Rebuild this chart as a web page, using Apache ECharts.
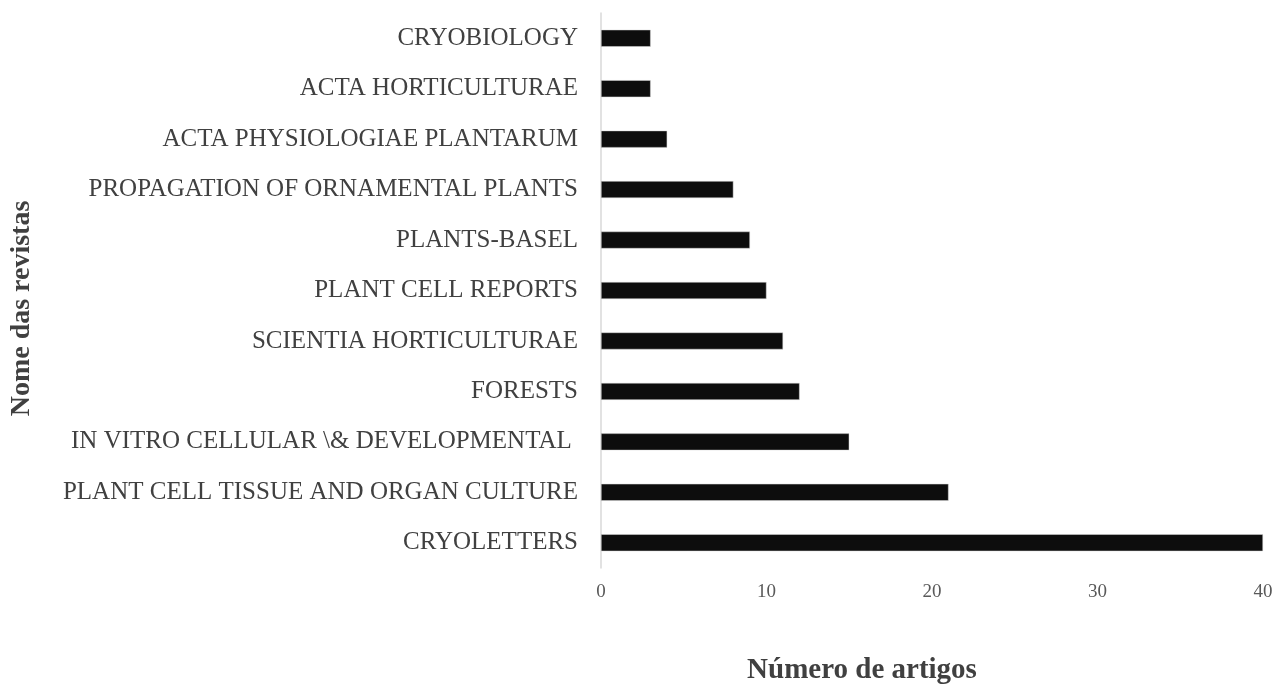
<!DOCTYPE html>
<html>
<head>
<meta charset="utf-8">
<script src="https://cdn.jsdelivr.net/npm/echarts@6/dist/echarts.min.js"></script>
<style>
  html, body { margin: 0; padding: 0; background: #fff; }
  #chart { width: 1274px; height: 686px; }
</style>
</head>
<body>
<div id="chart"></div>
<script>
// revistas, de cima para baixo
var journals = [
  "CRYOBIOLOGY",
  "ACTA HORTICULTURAE",
  "ACTA PHYSIOLOGIAE PLANTARUM",
  "PROPAGATION OF ORNAMENTAL PLANTS",
  "PLANTS-BASEL",
  "PLANT CELL REPORTS",
  "SCIENTIA HORTICULTURAE",
  "FORESTS",
  "IN VITRO CELLULAR \\& DEVELOPMENTAL ",
  "PLANT CELL TISSUE AND ORGAN CULTURE",
  "CRYOLETTERS"
];
var articles = [3, 3, 4, 8, 9, 10, 11, 12, 15, 21, 40];
var xTicks = [0, 10, 20, 30, 40];

var serif = "'Liberation Serif', 'DejaVu Serif', serif";
var chart = echarts.init(document.getElementById("chart"));
var option = {
  animation: false,
  grid: { left: 601, right: 11, top: 13, bottom: 118, containLabel: false, outerBoundsMode: "none" },
  xAxis: {
    type: "value",
    min: xTicks[0],
    max: xTicks[xTicks.length - 1],
    interval: 10,
    axisLine: { show: false },
    axisTick: { show: false },
    splitLine: { show: false },
    axisLabel: { fontFamily: serif, fontSize: 19, color: "#595959", margin: 15 },
    name: "Número de artigos",
    nameLocation: "middle",
    nameGap: 88,
    // nome deslocado para a esquerda, como no original
    nameTextStyle: { fontFamily: serif, fontSize: 29, fontWeight: "bold", color: "#404040", padding: [0, 140, 0, 0] }
  },
  yAxis: {
    type: "category",
    data: journals,
    inverse: true,
    axisLine: { show: true, lineStyle: { color: "#d9d9d9", width: 1.5 } },
    axisTick: { show: false },
    axisLabel: { fontFamily: serif, fontSize: 25, color: "#404040", margin: 23 },
    name: "Nome das revistas",
    nameLocation: "middle",
    nameGap: 565,
    nameRotate: 90,
    nameTextStyle: { fontFamily: serif, fontSize: 28, fontWeight: "bold", color: "#404040", padding: [0, 36, 0, 0] }
  },
  series: [
    {
      type: "bar",
      data: articles,
      barWidth: 17,
      itemStyle: { color: "#0d0d0d", borderColor: "#d9d9d9", borderWidth: 0.5 }
    }
  ]
};
chart.setOption(option);
</script>
</body>
</html>
